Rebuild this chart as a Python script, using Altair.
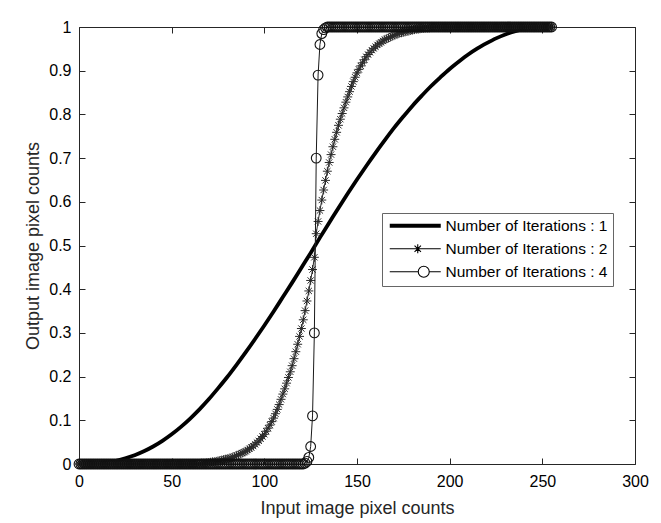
import altair as alt
import pandas as pd

# ---------------- data ----------------
series_names = ["Number of Iterations : 1", "Number of Iterations : 2", "Number of Iterations : 4"]

# curve 1 (thick line), sampled every 5 input levels
x1 = [0, 5, 10, 15, 20, 25, 30, 35, 40, 45, 50, 55, 60, 65, 70, 75, 80, 85, 90, 95,
      100, 105, 110, 115, 120, 125, 130, 135, 140, 145, 150, 155, 160, 165, 170, 175,
      180, 185, 190, 195, 200, 205, 210, 215, 220, 225, 230, 235, 240, 245, 250, 255]
y1 = [0, 0, 0.001, 0.003, 0.007, 0.013, 0.020, 0.029, 0.040, 0.053, 0.068, 0.085, 0.104,
      0.125, 0.148, 0.173, 0.199, 0.227, 0.256, 0.286, 0.317, 0.349, 0.382, 0.415, 0.449,
      0.483, 0.518, 0.552, 0.586, 0.619, 0.651, 0.682, 0.712, 0.741, 0.769, 0.795, 0.820,
      0.843, 0.865, 0.885, 0.904, 0.921, 0.937, 0.951, 0.963, 0.974, 0.983, 0.990, 0.995,
      0.998, 1, 1]

# input levels for the marker curves
x_in = list(range(256))

# curve 2 (asterisks), one value per input level 0..255
y2 = [0, 0, 0, 0, 0, 0, 0, 0, 0, 0,
      0, 0, 0, 0, 0, 0, 0, 0, 0, 0,
      0, 0, 0, 0, 0, 0, 0, 0, 0, 0,
      0, 0, 0, 0, 0, 0, 0, 0, 0, 0,
      0, 0, 0, 0, 0, 0, 0, 0, 0, 0,
      0, 0, 0, 0, 0, 0, 0, 0, 0, 0,
      0, 0, 0, 0.001, 0.001, 0.001, 0.002, 0.002, 0.002, 0.003,
      0.003, 0.004, 0.005, 0.005, 0.006, 0.007, 0.008, 0.009, 0.010, 0.011,
      0.012, 0.013, 0.014, 0.016, 0.017, 0.019, 0.021, 0.023, 0.025, 0.027,
      0.029, 0.032, 0.035, 0.038, 0.041, 0.045, 0.049, 0.053, 0.058, 0.063,
      0.068, 0.075, 0.082, 0.089, 0.097, 0.105, 0.115, 0.125, 0.136, 0.148,
      0.160, 0.172, 0.185, 0.198, 0.211, 0.225, 0.241, 0.257, 0.274, 0.292,
      0.310, 0.330, 0.351, 0.373, 0.396, 0.420, 0.445, 0.473, 0.527, 0.555,
      0.580, 0.604, 0.627, 0.649, 0.670, 0.690, 0.708, 0.726, 0.743, 0.759,
      0.775, 0.789, 0.802, 0.815, 0.828, 0.840, 0.852, 0.864, 0.875, 0.885,
      0.895, 0.903, 0.911, 0.918, 0.925, 0.932, 0.937, 0.942, 0.947, 0.951,
      0.955, 0.959, 0.962, 0.965, 0.968, 0.971, 0.973, 0.975, 0.977, 0.979,
      0.981, 0.983, 0.984, 0.986, 0.987, 0.988, 0.989, 0.990, 0.991, 0.992,
      0.993, 0.994, 0.995, 0.995, 0.996, 0.997, 0.997, 0.998, 0.998, 0.998,
      0.999, 0.999, 0.999, 1, 1, 1, 1, 1, 1, 1,
      1, 1, 1, 1, 1, 1, 1, 1, 1, 1,
      1, 1, 1, 1, 1, 1, 1, 1, 1, 1,
      1, 1, 1, 1, 1, 1, 1, 1, 1, 1,
      1, 1, 1, 1, 1, 1, 1, 1, 1, 1,
      1, 1, 1, 1, 1, 1, 1, 1, 1, 1,
      1, 1, 1, 1, 1, 1]

# curve 4 (circles), one value per input level 0..255
y4 = [0, 0, 0, 0, 0, 0, 0, 0, 0, 0,
      0, 0, 0, 0, 0, 0, 0, 0, 0, 0,
      0, 0, 0, 0, 0, 0, 0, 0, 0, 0,
      0, 0, 0, 0, 0, 0, 0, 0, 0, 0,
      0, 0, 0, 0, 0, 0, 0, 0, 0, 0,
      0, 0, 0, 0, 0, 0, 0, 0, 0, 0,
      0, 0, 0, 0, 0, 0, 0, 0, 0, 0,
      0, 0, 0, 0, 0, 0, 0, 0, 0, 0,
      0, 0, 0, 0, 0, 0, 0, 0, 0, 0,
      0, 0, 0, 0, 0, 0, 0, 0, 0, 0,
      0, 0, 0, 0, 0, 0, 0, 0, 0, 0,
      0, 0, 0, 0, 0, 0, 0, 0, 0, 0,
      0, 0, 0.002, 0.006, 0.015, 0.040, 0.110, 0.300, 0.700, 0.890,
      0.960, 0.985, 0.994, 0.998, 1, 1, 1, 1, 1, 1,
      1, 1, 1, 1, 1, 1, 1, 1, 1, 1,
      1, 1, 1, 1, 1, 1, 1, 1, 1, 1,
      1, 1, 1, 1, 1, 1, 1, 1, 1, 1,
      1, 1, 1, 1, 1, 1, 1, 1, 1, 1,
      1, 1, 1, 1, 1, 1, 1, 1, 1, 1,
      1, 1, 1, 1, 1, 1, 1, 1, 1, 1,
      1, 1, 1, 1, 1, 1, 1, 1, 1, 1,
      1, 1, 1, 1, 1, 1, 1, 1, 1, 1,
      1, 1, 1, 1, 1, 1, 1, 1, 1, 1,
      1, 1, 1, 1, 1, 1, 1, 1, 1, 1,
      1, 1, 1, 1, 1, 1, 1, 1, 1, 1,
      1, 1, 1, 1, 1, 1]

x_ticks = [0, 50, 100, 150, 200, 250, 300]
y_ticks = [0, 0.1, 0.2, 0.3, 0.4, 0.5, 0.6, 0.7, 0.8, 0.9, 1]

# ---------------- tables ----------------
df1 = pd.DataFrame({"x": x1, "y": y1})
df2 = pd.DataFrame({"x": x_in, "y": y2})
df4 = pd.DataFrame({"x": x_in, "y": y4})
dfl = pd.DataFrame({"series": series_names, "x": [0, 0, 0], "y": [0, 0, 0]})

FONT = "Liberation Sans"
INK = "#262626"

xscale = alt.Scale(domain=[0, 300], nice=False, zero=False)
yscale = alt.Scale(domain=[0, 1], nice=False, zero=False)
tick_in = {"expr": "-6"}

ax_x_main = alt.Axis(orient="bottom", values=x_ticks, title="Input image pixel counts",
                     tickSize=tick_in, domain=False, grid=False, format="d",
                     labelFlush=False, labelPadding=15, titlePadding=10)
ax_y_main = alt.Axis(orient="left", values=y_ticks, title="Output image pixel counts",
                     tickSize=tick_in, domain=False, grid=False, format="~g",
                     labelPadding=14, titlePadding=6)
ax_x_top = alt.Axis(orient="top", values=x_ticks, labels=False, title=None,
                    tickSize=tick_in, domain=False, grid=False)
ax_y_right = alt.Axis(orient="right", values=y_ticks, labels=False, title=None,
                      tickSize=tick_in, domain=False, grid=False)

asterisk = "M-1,0L1,0M0,-1L0,1M-0.7,-0.7L0.7,0.7M-0.7,0.7L0.7,-0.7"

legend_paths = [
    "M-1,-0.3L9.2,-0.3M-1,-0.1L9.2,-0.1M-1,0.1L9.2,0.1M-1,0.3L9.2,0.3",
    "M-1,0L9.2,0M3.7,0L5.5,0M4.6,-0.9L4.6,0.9M3.96,-0.64L5.24,0.64M3.96,0.64L5.24,-0.64",
    "M-1,0L4.7,0A1.1,1.1,0,1,1,6.9,0A1.1,1.1,0,1,1,4.7,0M6.9,0L9.2,0",
]

line1 = alt.Chart(df1).mark_line(color="black", strokeWidth=3.8, interpolate="monotone").encode(
    x=alt.X("x:Q", scale=xscale, axis=ax_x_main),
    y=alt.Y("y:Q", scale=yscale, axis=ax_y_main),
)

line2 = alt.Chart(df2).mark_line(color="#2a2a2a", strokeWidth=1).encode(
    x=alt.X("x:Q", scale=xscale, axis=ax_x_top),
    y=alt.Y("y:Q", scale=yscale, axis=ax_y_right),
)
pts2 = alt.Chart(df2).mark_point(shape=asterisk, size=80, filled=False,
                                 stroke="#2a2a2a", strokeWidth=1, opacity=1).encode(
    x=alt.X("x:Q", scale=xscale, axis=None),
    y=alt.Y("y:Q", scale=yscale, axis=None),
)

line4 = alt.Chart(df4).mark_line(color="#1a1a1a", strokeWidth=1).encode(
    x=alt.X("x:Q", scale=xscale, axis=None),
    y=alt.Y("y:Q", scale=yscale, axis=None),
)
pts4 = alt.Chart(df4).mark_point(shape="circle", size=95, filled=False,
                                 stroke="#111111", strokeWidth=1.1, opacity=1).encode(
    x=alt.X("x:Q", scale=xscale, axis=None),
    y=alt.Y("y:Q", scale=yscale, axis=None),
)

legend_layer = alt.Chart(dfl).mark_point(filled=False, color="black", size=100, opacity=1).encode(
    x=alt.X("x:Q", scale=xscale, axis=None),
    y=alt.Y("y:Q", scale=yscale, axis=None),
    shape=alt.Shape(
        "series:N",
        scale=alt.Scale(domain=series_names, range=legend_paths),
        legend=alt.Legend(
            orient="none", legendX=303, legendY=186, title=None,
            labelFont=FONT, labelFontSize=15.5, labelColor="black", labelLimit=0,
            labelOffset=43, symbolSize=100, symbolStrokeWidth=1.1,
            symbolStrokeColor="black", symbolFillColor="transparent",
            rowPadding=6, padding=5, strokeColor="#666666", fillColor="white",
        ),
    ),
).transform_filter("false")

chart = alt.layer(line1, line2, pts2, line4, pts4, legend_layer).resolve_axis(
    x="independent", y="independent"
).properties(
    width=556, height=437,
    autosize=alt.AutoSizeParams(type="none"),
    padding={"left": 71, "top": 19, "right": 18, "bottom": 56},
    background="white",
).configure_view(
    stroke=INK, strokeWidth=1
).configure_axis(
    labelFont=FONT, labelFontSize=16, labelColor="black",
    titleFont=FONT, titleFontSize=18, titleColor=INK, titleFontWeight="normal",
    tickColor=INK, tickWidth=1,
)

chart.save("out.html", embed_options={"renderer": "svg", "actions": False})
